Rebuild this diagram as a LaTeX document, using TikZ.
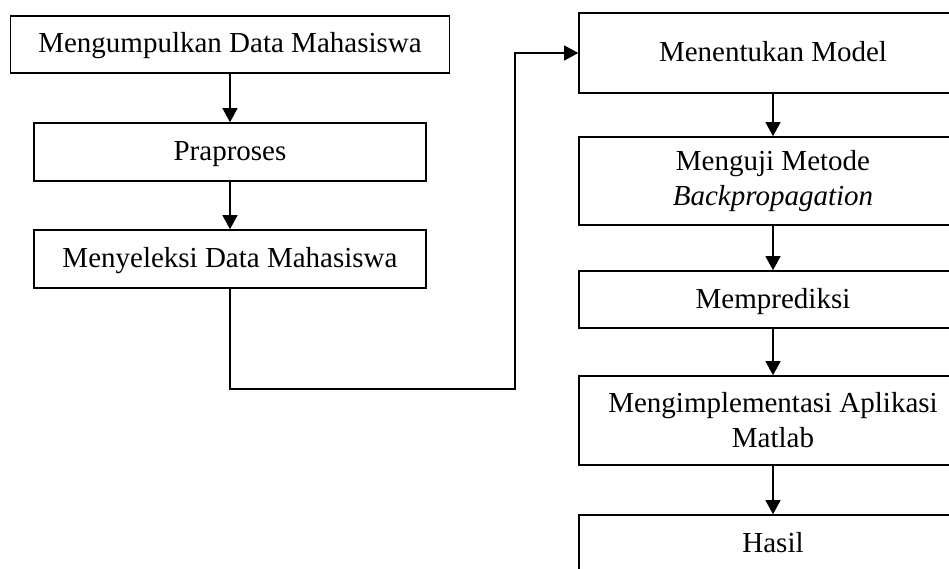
\documentclass[tikz,border=0pt]{standalone}
\usepackage{fontspec}
\setmainfont{Liberation Serif}
\usetikzlibrary{arrows.meta}
\begin{document}
\begin{tikzpicture}[x=1pt,y=-1pt,
  box/.style={draw,line width=1.6pt,inner sep=0pt,minimum width=#1,
    font=\fontsize{29}{35}\selectfont,align=center},
  one/.style={text height=21pt,text depth=4pt},
  conn/.style={line width=1.1pt},
  arr/.style={conn,-{Triangle[length=14pt,width=15pt]}}]
\useasboundingbox (0,0) rectangle (949,569);
\clip (0,0) rectangle (949,569);
\node[box=439pt,one,minimum height=57pt] (b1) at (230,44.5) {Mengumpulkan Data Mahasiswa};
\node[box=392pt,one,minimum height=58pt] (b2) at (230,152) {Praproses};
\node[box=392pt,one,minimum height=58pt] (b3) at (230,259) {Menyeleksi Data Mahasiswa};
\node[box=388pt,one,minimum height=80pt] (r1) at (773,53) {Menentukan Model};
\node[box=388pt,minimum height=88pt] (r2) at (773,181) {Menguji Metode\\\textit{Backpropagation}};
\node[box=388pt,one,minimum height=57pt] (r3) at (773,299.5) {Memprediksi};
\node[box=388pt,minimum height=89pt] (r4) at (773,420.5) {Mengimplementasi Aplikasi\\Matlab};
\node[box=388pt,one,minimum height=58pt] (r5) at (773,544) {Hasil};
\coordinate (turn) at (515,389);
\draw[arr] (b1.south) -- (b2.north);
\draw[arr] (b2.south) -- (b3.north);
\draw[arr] (b3.south) |- (turn) |- (r1.west);
\draw[arr] (r1.south) -- (r2.north);
\draw[arr] (r2.south) -- (r3.north);
\draw[arr] (r3.south) -- (r4.north);
\draw[arr] (r4.south) -- (r5.north);
\end{tikzpicture}
\end{document}
